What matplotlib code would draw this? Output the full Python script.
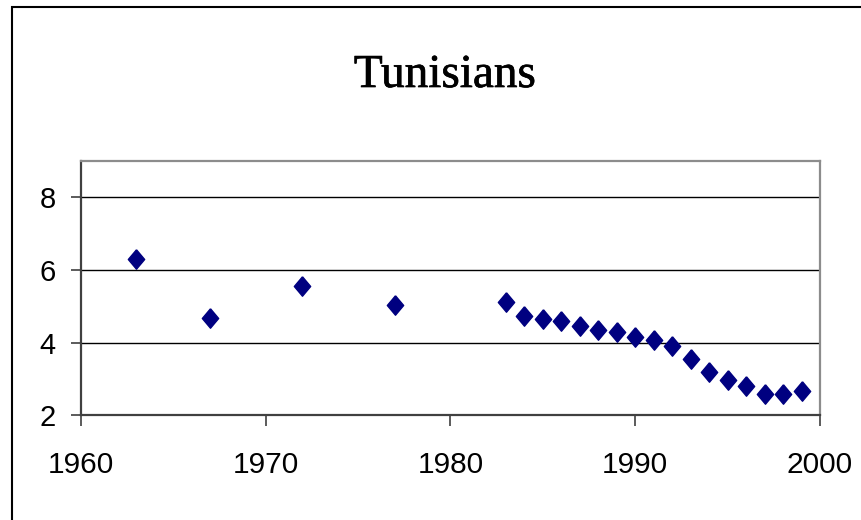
import numpy as np
import matplotlib
matplotlib.use("Agg")
import matplotlib.pyplot as plt
import matplotlib.patheffects as pe
from matplotlib.patches import Rectangle

# values
years = [1963, 1967, 1972, 1977, 1983, 1984, 1985, 1986, 1987, 1988, 1989,
         1990, 1991, 1992, 1993, 1994, 1995, 1996, 1997, 1998, 1999]
values = [6.30, 4.67, 5.56, 5.03, 5.11, 4.74, 4.65, 4.59, 4.45, 4.36, 4.29,
          4.15, 4.08, 3.92, 3.56, 3.19, 2.97, 2.81, 2.60, 2.60, 2.67]
title = "Tunisians"
xticks = [1960, 1970, 1980, 1990, 2000]
yticks = [2, 4, 6, 8]

W, H = 862, 520
fig = plt.figure(figsize=(W / 100, H / 100), dpi=100)
fig.patch.set_facecolor("white")

# outer chart border (runs off the right and bottom edge)
fig.patches.append(Rectangle((12 / W, -0.05), 1.2, 1 - 6.5 / H + 0.05,
                             transform=fig.transFigure, fill=False,
                             edgecolor="black", lw=1.5))

left, right, top, bottom = 80.7, 820, 161, 415.3
ax = fig.add_axes([left / W, 1 - bottom / H, (right - left) / W, (bottom - top) / H])

diamond = [(0, 1), (0.84, 0), (0, -1), (-0.84, 0), (0, 1)]
ax.plot(years, values, ls="none", marker=diamond, ms=14,
        color="#000080", mec="#000080", zorder=3, clip_on=False)

ax.set_xlim(1960, 2000)
ax.set_ylim(2, 9)
ax.set_xticks(xticks)
ax.set_yticks(yticks)
ax.yaxis.grid(True, color="black", lw=1.0)
ax.set_axisbelow(True)

for s in ("left", "bottom"):
    ax.spines[s].set_color("#404040")
    ax.spines[s].set_linewidth(1.6)
for s in ("top", "right"):
    ax.spines[s].set_color("#8c8c8c")
    ax.spines[s].set_linewidth(1.6)

ax.tick_params(axis="y", direction="out", length=7, width=1.2, color="#404040",
               pad=11, labelsize=21)
ax.tick_params(axis="x", direction="out", length=8, width=1.2, color="#404040",
               pad=18, labelsize=21.5)
for lab in ax.get_xticklabels() + ax.get_yticklabels():
    lab.set_family(["Liberation Sans", "DejaVu Sans"])

fig.text(445 / W, 1 - 87 / H, title, ha="center", va="baseline",
         fontsize=34, family=["Liberation Serif", "DejaVu Serif"],
         path_effects=[pe.withStroke(linewidth=0.5, foreground="black")])

fig.savefig("out.png", dpi=100)
